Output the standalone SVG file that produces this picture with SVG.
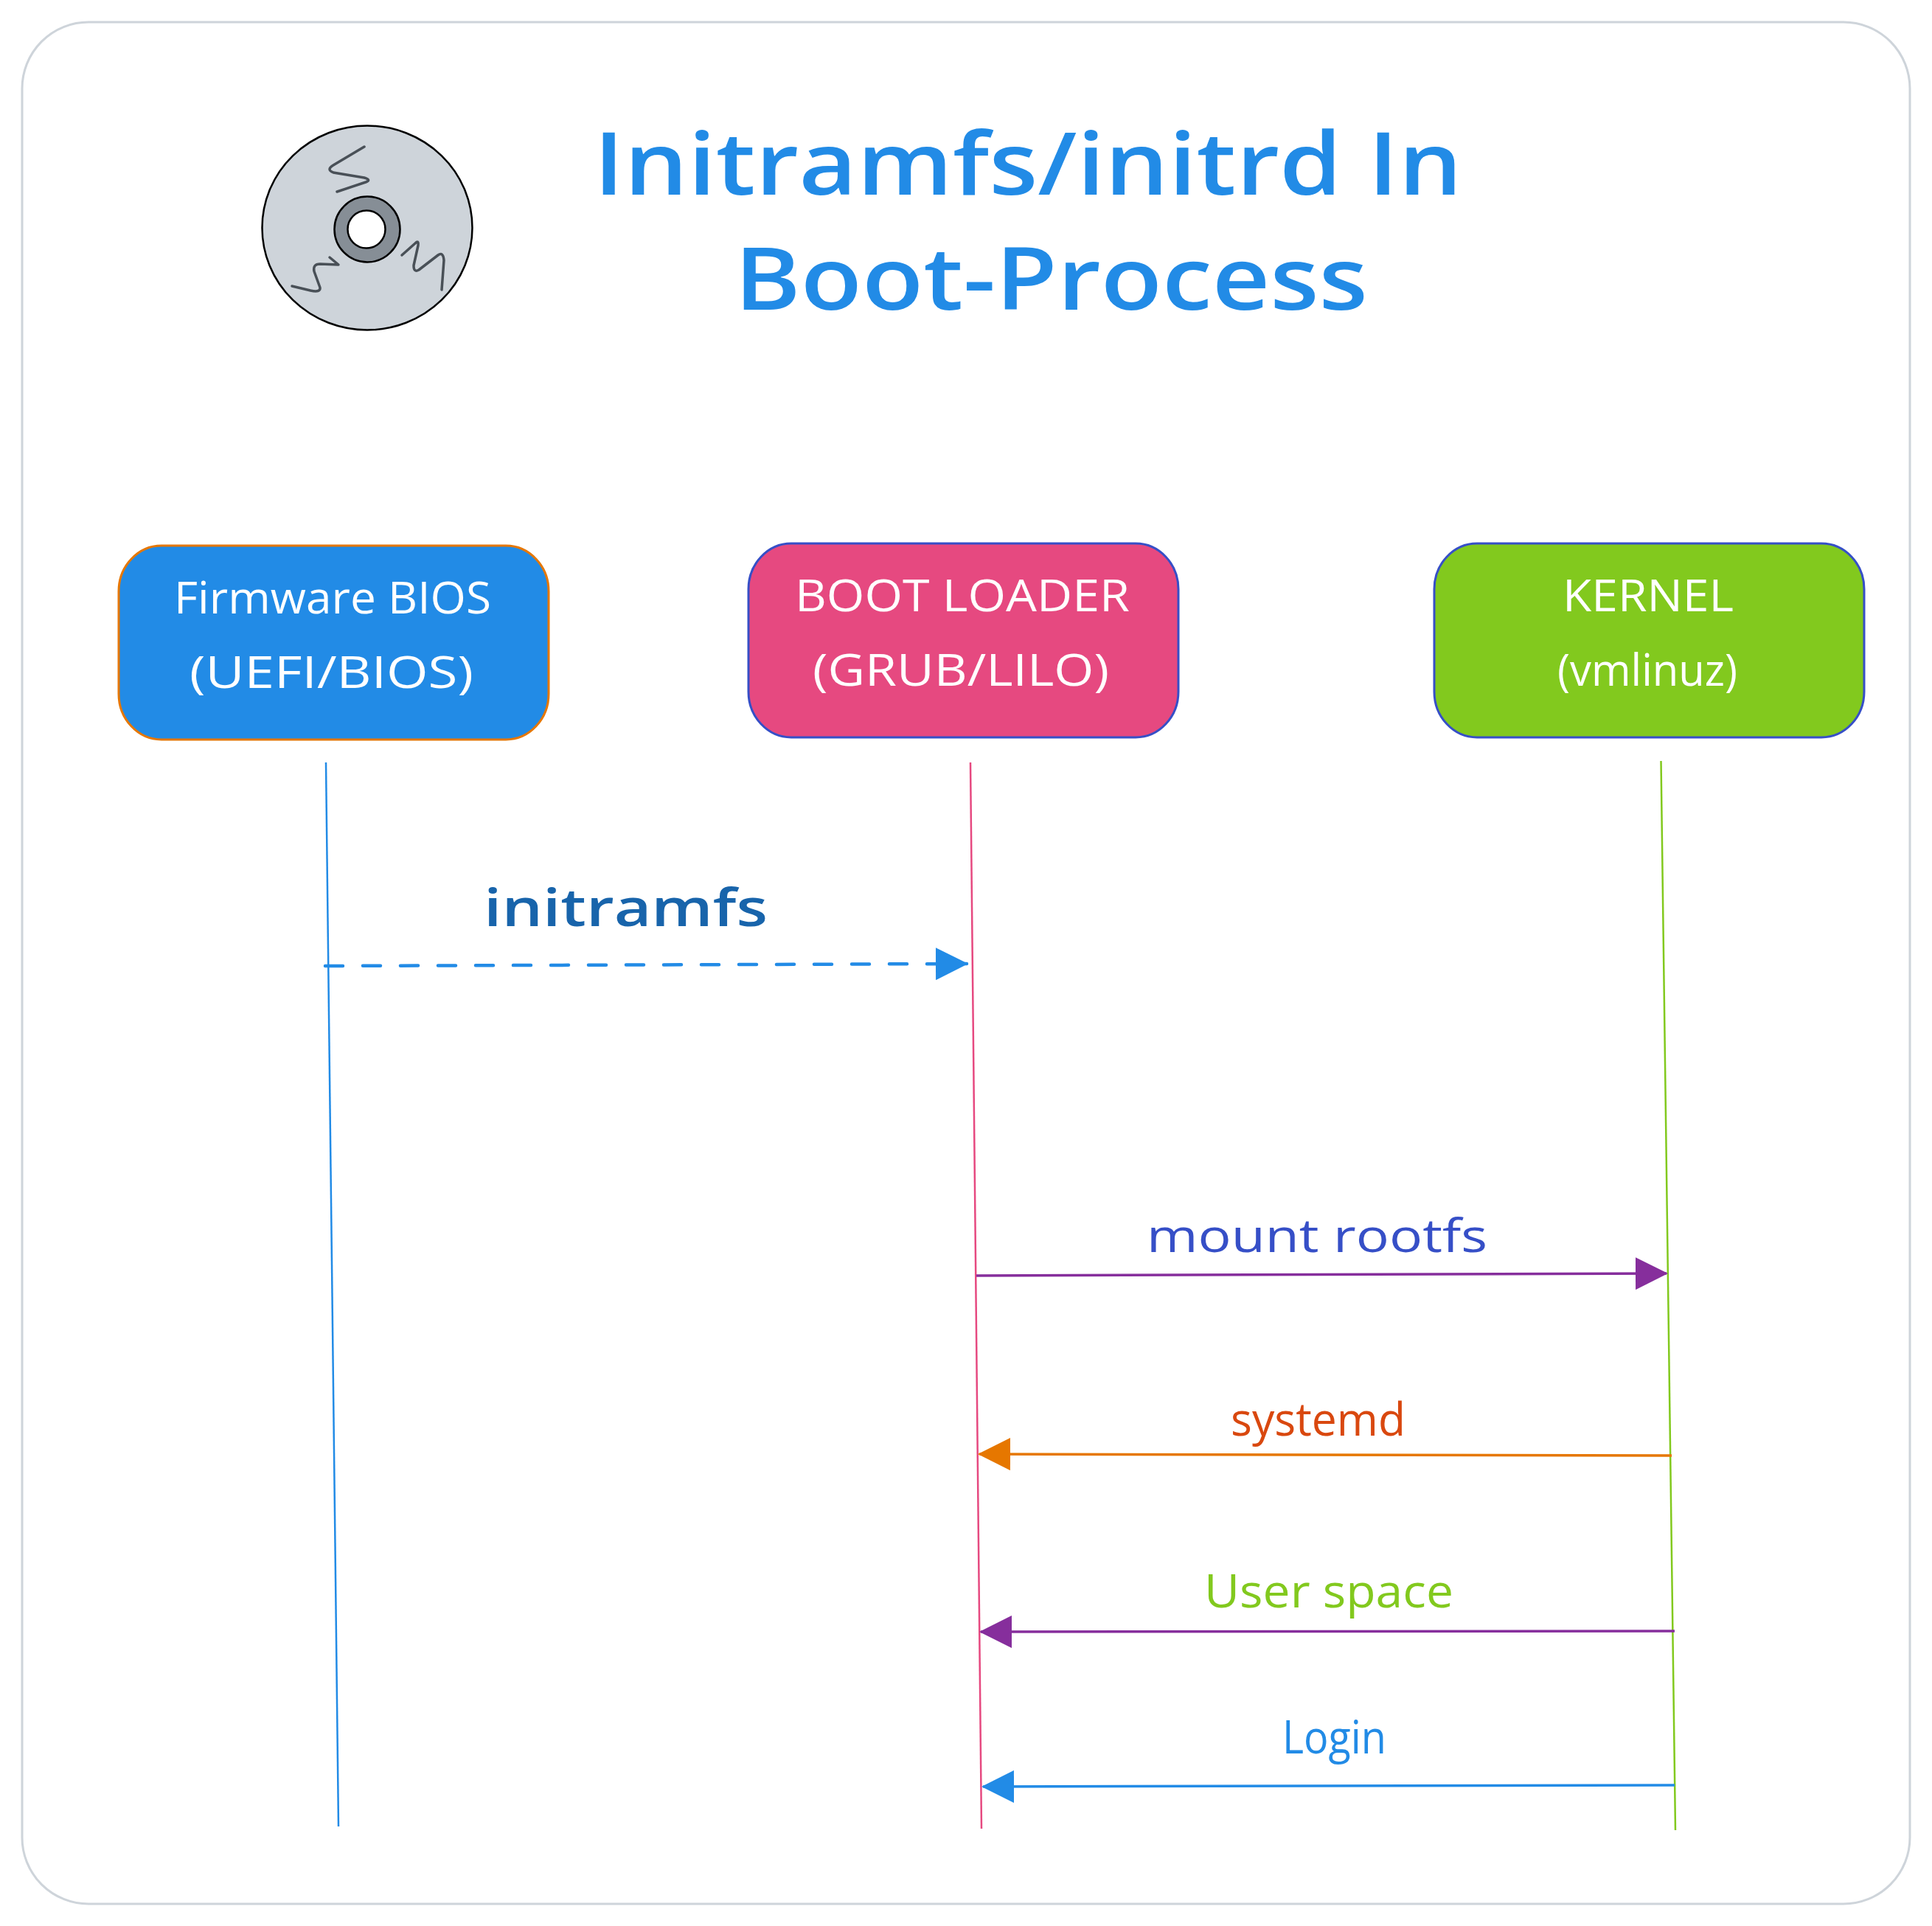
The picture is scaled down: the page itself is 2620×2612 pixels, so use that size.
<svg xmlns="http://www.w3.org/2000/svg" width="2620" height="2612" viewBox="0 0 2620 2612">
  <style>
    text { font-family: "Open Sans", "Liberation Sans", sans-serif; }
    .title { font-size: 118px; fill: #228be6; font-weight: 600; }
    .nodetext { font-size: 60px; fill: #ffffff; }
    .msg { font-size: 70px; font-weight: 600; }
    .msg2 { font-size: 62px; font-weight: 500; }
    .box { stroke-width: 3; }
    .life { fill: none; stroke-width: 2.5; }
    .arrow { fill: none; stroke-width: 3.5; }
    .dashed { fill: none; stroke-width: 4.5; stroke-linecap: round; stroke-dasharray: 24 27; }
    .squig { fill: none; stroke: #495057; stroke-width: 3.5; stroke-linecap: round; stroke-linejoin: round; }
  </style>
  <defs>
    <marker id="hBlue" markerUnits="userSpaceOnUse" markerWidth="46" markerHeight="44" viewBox="0 0 46 44" refX="42" refY="22" orient="auto"><path d="M0 0L44 22L0 44Z" fill="#228be6"/></marker>
    <marker id="hPurple" markerUnits="userSpaceOnUse" markerWidth="46" markerHeight="44" viewBox="0 0 46 44" refX="42" refY="22" orient="auto"><path d="M0 0L44 22L0 44Z" fill="#862e9c"/></marker>
    <marker id="hOrange" markerUnits="userSpaceOnUse" markerWidth="46" markerHeight="44" viewBox="0 0 46 44" refX="42" refY="22" orient="auto"><path d="M0 0L44 22L0 44Z" fill="#e67700"/></marker>
  </defs>
  <rect width="2620" height="2612" fill="#ffffff"/>
  <rect id="frame" x="30" y="30" width="2560" height="2552" rx="90" ry="90" fill="#ffffff" stroke="#ced4da" stroke-width="3"/>

  <g id="disc">
    <ellipse cx="498" cy="309" rx="142.500" ry="138.500" fill="#ced4da" stroke="#000000" stroke-width="2.500"/>
    <path class="squig" d="M494 199L452 224Q442 230 452 234L494 241Q504 244 496 247L457 260"/>
    <path class="squig" d="M396 388L421 394Q435 397 434 390L426 368Q424 358 434 358L459 359L447 349"/>
    <path class="squig" d="M545 346L563 330Q568 325 567 333L561 360Q561 370 568 366L594 346Q601 341 602 353L599 393"/>
    <circle cx="498" cy="311" r="44.500" fill="#868e96" stroke="#000000" stroke-width="2.500"/>
    <circle cx="497" cy="311" r="25.500" fill="#ffffff" stroke="#000000" stroke-width="2.500"/>
  </g>

  <g id="title">
    <text class="title" x="805" y="264" textLength="1178" lengthAdjust="spacingAndGlyphs">Initramfs/initrd In</text>
    <text class="title" x="996" y="420" textLength="859" lengthAdjust="spacingAndGlyphs">Boot-Process</text>
  </g>

  <g id="node-firmware">
    <rect class="box" x="161" y="740" width="583" height="263" rx="58" ry="62" fill="#228be6" stroke="#e67700"/>
    <text class="nodetext" x="236" y="832" textLength="430" lengthAdjust="spacingAndGlyphs">Firmware BIOS</text>
    <text class="nodetext" x="257" y="933" textLength="385" lengthAdjust="spacingAndGlyphs">(UEFI/BIOS)</text>
  </g>
  <g id="node-bootloader">
    <rect class="box" x="1015" y="737" width="583" height="263" rx="58" ry="62" fill="#e64980" stroke="#364fc7"/>
    <text class="nodetext" x="1078" y="829" textLength="454" lengthAdjust="spacingAndGlyphs">BOOT LOADER</text>
    <text class="nodetext" x="1102" y="930" textLength="402" lengthAdjust="spacingAndGlyphs">(GRUB/LILO)</text>
  </g>
  <g id="node-kernel">
    <rect class="box" x="1945" y="737" width="583" height="263" rx="58" ry="62" fill="#82c91e" stroke="#364fc7"/>
    <text class="nodetext" x="2119" y="829" textLength="232" lengthAdjust="spacingAndGlyphs">KERNEL</text>
    <text class="nodetext" x="2112" y="930" textLength="244" lengthAdjust="spacingAndGlyphs">(vmlinuz)</text>
  </g>

  <g id="connectors">
    <path class="life" stroke="#228be6" d="M442 1034L459 2477"/>
    <path class="life" stroke="#e64980" d="M1316 1034L1331 2480"/>
    <path class="life" stroke="#82c91e" d="M2252.500 1032L2272 2482"/>
    <path class="dashed" stroke="#228be6" d="M441 1310L1311 1307" marker-end="url(#hBlue)"/>
    <path class="arrow" stroke="#862e9c" d="M1324 1730L2260 1727" marker-end="url(#hPurple)"/>
    <path class="arrow" stroke="#e67700" d="M2267 1974L1328 1972" marker-end="url(#hOrange)"/>
    <path class="arrow" stroke="#862e9c" d="M2271 2212L1330 2213" marker-end="url(#hPurple)"/>
    <path class="arrow" stroke="#228be6" d="M2271 2421L1333 2423" marker-end="url(#hBlue)"/>
  </g>

  <g id="labels">
    <text class="msg" fill="#1864ab" x="656" y="1256" textLength="385" lengthAdjust="spacingAndGlyphs">initramfs</text>
    <text class="msg2" fill="#364fc7" x="1555" y="1698" textLength="462" lengthAdjust="spacingAndGlyphs">mount rootfs</text>
    <text class="msg2" fill="#d9480f" x="1669" y="1947" textLength="237" lengthAdjust="spacingAndGlyphs">systemd</text>
    <text class="msg2" fill="#82c91e" x="1633" y="2180" textLength="338" lengthAdjust="spacingAndGlyphs">User space</text>
    <text class="msg2" fill="#228be6" x="1739" y="2378" textLength="141" lengthAdjust="spacingAndGlyphs">Login</text>
  </g>
</svg>
